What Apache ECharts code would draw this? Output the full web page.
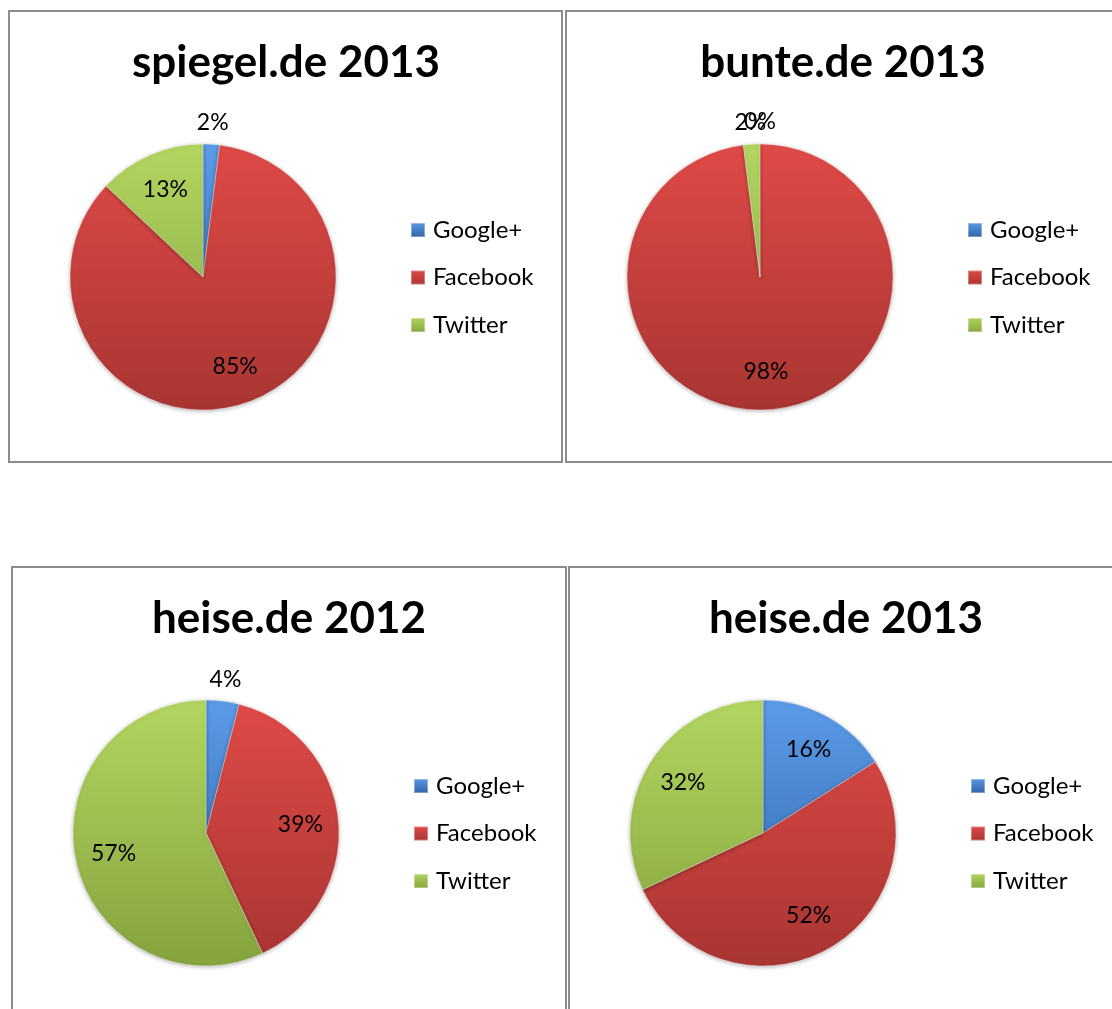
<!DOCTYPE html>
<html><head><meta charset="utf-8">
<script src="https://cdn.jsdelivr.net/npm/echarts@6/dist/echarts.min.js"></script>
<style>
html,body{margin:0;padding:0;background:#fff;width:1112px;height:1009px;overflow:hidden;position:relative}
.panel{position:absolute;border:2px solid #8c8c8c;box-sizing:border-box;background:#fff}
.chart{width:100%;height:100%}
</style></head><body>
<div class="panel" style="left:8px;top:10px;width:555px;height:453px"><div id="c0" class="chart"></div></div>
<div class="panel" style="left:565px;top:10px;width:600px;height:453px"><div id="c1" class="chart"></div></div>
<div class="panel" style="left:11px;top:566px;width:556px;height:500px"><div id="c2" class="chart"></div></div>
<div class="panel" style="left:568px;top:566px;width:600px;height:500px"><div id="c3" class="chart"></div></div>
<script>
// ---- data ----
const titles = ['spiegel.de 2013', 'bunte.de 2013', 'heise.de 2012', 'heise.de 2013'];
const categories = ['Google+', 'Facebook', 'Twitter'];
const googlePlus = [2, 0, 4, 16];
const facebook = [85, 98, 39, 52];
const twitter = [13, 2, 57, 32];

// ---- layout / style ----
const CX = 193, CY = 265, R = 133;
const TITLE_X = 276, TITLE_Y = 51;
const OUTSIDE_THRESHOLD = 5;
const shades = {
  'Google+': ['#5B9BE8', '#2F62A3'],
  'Facebook': ['#E04A47', '#A83532'],
  'Twitter': ['#B2D660', '#85A33E']
};
function grad(name, global) {
  const s = shades[name];
  return global
    ? new echarts.graphic.LinearGradient(0, CY - R, 0, CY + R, [{offset: 0, color: s[0]}, {offset: 1, color: s[1]}], true)
    : new echarts.graphic.LinearGradient(0, 0, 0, 1, [{offset: 0, color: s[0]}, {offset: 1, color: s[1]}]);
}
const FONT = 'Lato, "Open Sans", sans-serif';

for (let i = 0; i < 4; i++) {
  const values = [googlePlus[i], facebook[i], twitter[i]];
  const chart = echarts.init(document.getElementById('c' + i), null, {renderer: 'canvas'});
  const mainData = categories.map((n, k) => ({
    name: n, value: values[k],
    itemStyle: {color: grad(n, true)}
  }));
  const labelData = (outside) => categories.map((n, k) => ({
    name: n, value: values[k],
    label: {show: outside ? values[k] < OUTSIDE_THRESHOLD : values[k] >= OUTSIDE_THRESHOLD}
  }));
  const overlay = (radius, outside) => ({
    type: 'pie', center: [CX, CY], radius: radius, startAngle: 90, clockwise: true,
    silent: true, legendHoverLink: false, z: 5,
    avoidLabelOverlap: false,
    labelLayout: {hideOverlap: false},
    itemStyle: {color: 'rgba(0,0,0,0)', borderWidth: 0},
    label: {position: 'inside', formatter: '{c}%', fontFamily: FONT, fontSize: 23, color: '#000'},
    labelLine: {show: false},
    emphasis: {disabled: true},
    data: labelData(outside)
  });
  chart.setOption({
    animation: false,
    graphic: [{
      type: 'text', x: TITLE_X, y: TITLE_Y,
      style: {text: titles[i], font: 'bold 44px ' + FONT, fill: '#000',
        textAlign: 'center', textVerticalAlign: 'middle', align: 'center', verticalAlign: 'middle'}
    }],
    legend: {
      orient: 'vertical', left: 400, top: 205, padding: 0,
      itemWidth: 14, itemHeight: 14, itemGap: 21.5, icon: 'rect',
      selectedMode: false,
      textStyle: {fontFamily: FONT, fontSize: 24, color: '#000', lineHeight: 26, padding: [0, 0, 0, 3]},
      data: categories.map(n => ({name: n, itemStyle: {color: grad(n, false)}}))
    },
    series: [
      {
        type: 'pie', center: [CX, CY], radius: [0, R], startAngle: 90, clockwise: true,
        label: {show: false}, labelLine: {show: false},
        itemStyle: {borderWidth: 1, borderColor: 'rgba(255,255,255,0.35)',
          shadowBlur: 4, shadowColor: 'rgba(0,0,0,0.3)', shadowOffsetY: 1},
        emphasis: {disabled: true},
        data: mainData
      },
      overlay([0.38 * R, R], false),
      overlay([R, R + 38], true)
    ]
  });
}
</script>
</body></html>
